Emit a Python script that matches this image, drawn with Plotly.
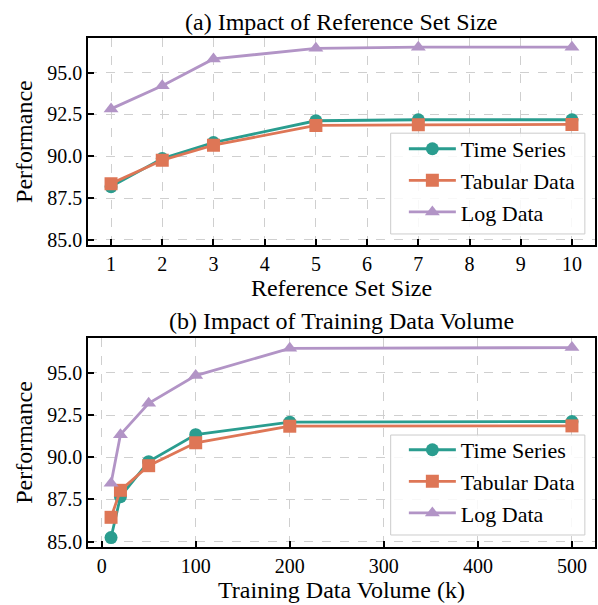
import plotly.graph_objects as go
from plotly.subplots import make_subplots

# ---- data ----
ref_sizes = [1, 2, 3, 5, 7, 10]
ref_time_series = [88.18, 89.86, 90.82, 92.12, 92.18, 92.18]
ref_tabular = [88.36, 89.76, 90.66, 91.84, 91.88, 91.90]
ref_log = [92.83, 94.22, 95.82, 96.45, 96.52, 96.52]

train_volumes = [10, 20, 50, 100, 200, 500]
vol_time_series = [85.24, 87.66, 89.74, 91.34, 92.08, 92.12]
vol_tabular = [86.44, 88.04, 89.50, 90.86, 91.84, 91.86]
vol_log = [88.46, 91.34, 93.20, 94.84, 96.46, 96.50]

series_names = ["Time Series", "Tabular Data", "Log Data"]
colors = ["#2a9d8f", "#de7656", "#b294c6"]
symbols = ["circle", "square", "triangle-up"]

y_ticks = [85.0, 87.5, 90.0, 92.5, 95.0]
x1_ticks = list(range(1, 11))
x2_ticks = [0, 100, 200, 300, 400, 500]

FONT = "Liberation Serif"

fig = make_subplots(rows=2, cols=1)

for i, (name, ys) in enumerate(zip(series_names, [ref_time_series, ref_tabular, ref_log])):
    fig.add_trace(go.Scatter(
        x=ref_sizes, y=ys, name=name, mode="lines+markers",
        line=dict(color=colors[i], width=2.8),
        marker=dict(symbol=symbols[i], size=13, color=colors[i]),
        legend="legend",
    ), row=1, col=1)

for i, (name, ys) in enumerate(zip(series_names, [vol_time_series, vol_tabular, vol_log])):
    fig.add_trace(go.Scatter(
        x=train_volumes, y=ys, name=name, mode="lines+markers",
        line=dict(color=colors[i], width=2.8),
        marker=dict(symbol=symbols[i], size=13, color=colors[i]),
        legend="legend2",
    ), row=2, col=1)

axis_common = dict(
    showline=True, linecolor="black", linewidth=1.5, mirror=True,
    ticks="inside", ticklen=6, tickwidth=1.5, tickcolor="black",
    showgrid=True, gridcolor="#cfcfcf", griddash="dash", gridwidth=1,
    zeroline=False, tickfont=dict(family=FONT, size=20, color="black"),
)

fig.update_xaxes(**axis_common)
fig.update_yaxes(**axis_common)

yr = [84.68, 97.07]
title_font = dict(family=FONT, size=24, color="black")
fig.update_layout(
    xaxis=dict(domain=[0, 1], range=[0.55, 10.45], tickvals=x1_ticks,
               title=dict(text="Reference Set Size", font=title_font, standoff=4)),
    yaxis=dict(domain=[0.593, 1.0], range=yr, tickvals=y_ticks, tickformat=".1f",
               title=dict(text="Performance", font=title_font, standoff=8)),
    xaxis2=dict(domain=[0, 1], range=[-14.5, 524.5], tickvals=x2_ticks,
                title=dict(text="Training Data Volume (k)", font=title_font, standoff=4)),
    yaxis2=dict(domain=[0, 0.4106], range=yr, tickvals=y_ticks, tickformat=".1f",
                title=dict(text="Performance", font=title_font, standoff=8)),
)

legend_common = dict(
    bgcolor="rgba(0,0,0,0)", borderwidth=0,
    font=dict(family=FONT, size=22, color="black"), itemwidth=47,
    xanchor="left", yanchor="bottom", x=0.623,
)
fig.update_layout(
    legend=dict(**legend_common, y=0.617),
    legend2=dict(**legend_common, y=0.0256),
)

# legend frames (matplotlib-style box behind the legend entries)
for (y0, y1) in [(0.615, 0.813), (0.0236, 0.220)]:
    fig.add_shape(type="rect", xref="paper", yref="paper", x0=0.597, x1=0.980, y0=y0, y1=y1,
                  line=dict(color="#cccccc", width=1), fillcolor="rgba(255,255,255,0.85)",
                  layer="above")

fig.add_annotation(text="(a) Impact of Reference Set Size", xref="paper", yref="paper",
                   x=0.5, y=1.0, yshift=1, showarrow=False, yanchor="bottom",
                   font=title_font)
fig.add_annotation(text="(b) Impact of Training Data Volume", xref="paper", yref="paper",
                   x=0.5, y=0.4106, yshift=2, showarrow=False, yanchor="bottom",
                   font=title_font)

fig.update_layout(
    width=598, height=605,
    margin=dict(l=88, r=1, t=38, b=58),
    paper_bgcolor="white", plot_bgcolor="white",
    font=dict(family=FONT, color="black"),
)

fig.write_html("out.html", config={"displayModeBar": False},
               post_script="document.body.style.margin='0';document.body.style.overflow='hidden';")
